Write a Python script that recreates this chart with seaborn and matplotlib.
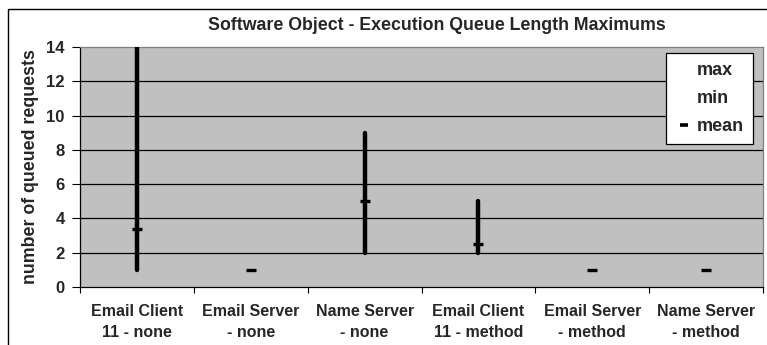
import matplotlib.pyplot as plt
import seaborn as sns
import pandas as pd
from matplotlib.lines import Line2D
from matplotlib.patches import Rectangle

# values
categories = ['Email Client\n11 - none', 'Email Server\n- none', 'Name Server\n- none',
              'Email Client\n11 - method', 'Email Server\n- method', 'Name Server\n- method']
q_max = [14, 1, 9, 5, 1, 1]
q_min = [1, 1, 2, 2, 1, 1]
q_mean = [3.4, 1, 5, 2.5, 1, 1]
y_ticks = [0, 2, 4, 6, 8, 10, 12, 14]

df = pd.DataFrame({'object': categories, 'max': q_max, 'min': q_min, 'mean': q_mean})
df['pos'] = range(len(df))

sns.set_style('white')
plt.rcParams['font.family'] = ['Liberation Sans', 'DejaVu Sans']
plt.rcParams['font.weight'] = 'bold'

fig = plt.figure(figsize=(7.67, 3.45), dpi=100)
ax = fig.add_axes([80 / 767, 1 - 287 / 345, 683 / 767, 240 / 345])
ax.set_facecolor('#c0c0c0')

# outer chart frame (clipped on right and bottom like the source)
fig.add_artist(Rectangle((8 / 767, -0.05), 1.0, 1 - 9 / 345 + 0.05, transform=fig.transFigure,
                         fill=False, edgecolor='black', linewidth=1.0))

for y in y_ticks[1:-1]:
    ax.axhline(y, color='black', linewidth=0.9, zorder=1)

# high-low lines
ax.vlines(df['pos'], df['min'], df['max'], color='black', linewidth=3.2,
          capstyle='round', zorder=3)
# mean dashes
sns.scatterplot(data=df, x='pos', y='mean', marker='_', s=60, color='black',
                linewidth=2.4, ax=ax, zorder=4, legend=False)

ax.set_xlim(-0.5, len(categories) - 0.5)
ax.set_ylim(0, 14)
ax.set_yticks(y_ticks)
ax.set_yticklabels([str(v) for v in y_ticks], fontsize=12, fontweight='bold')
ax.set_xticks([i - 0.5 for i in range(len(categories) + 1)])
ax.set_xticklabels([])
ax.set_xticks(range(len(categories)), minor=True)
ax.set_xticklabels(categories, minor=True, fontsize=11.5, fontweight='bold', linespacing=1.5)
ax.tick_params(axis='x', which='major', direction='out', length=4, width=0.8, color='black', bottom=True)
ax.tick_params(axis='x', which='minor', length=0, pad=12)
ax.tick_params(axis='y', direction='out', length=6, width=0.8, color='black', left=True, pad=5)
ax.set_xlabel('')
ax.set_ylabel('number of queued requests', fontsize=12.8, fontweight='bold', labelpad=5)

for side in ['left', 'bottom']:
    ax.spines[side].set_color('black')
    ax.spines[side].set_linewidth(0.9)
for side in ['top', 'right']:
    ax.spines[side].set_color('#808080')
    ax.spines[side].set_linewidth(0.9)

fig.text(437 / 767, 1 - 25 / 345, 'Software Object - Execution Queue Length Maximums',
         ha='center', va='center', fontsize=12.8, fontweight='bold')

handles = [Line2D([], [], linestyle='none'),
           Line2D([], [], linestyle='none'),
           Line2D([], [], linestyle='none', marker='_', markersize=6, markeredgewidth=2.6, color='black')]
leg = ax.legend(handles, ['max', 'min', 'mean'], loc='upper right',
                bbox_to_anchor=((753 - 80) / 683, (287 - 53) / 240), borderaxespad=0,
                frameon=True, fancybox=False, edgecolor='black', facecolor='white', framealpha=1,
                prop={'size': 13, 'weight': 'bold'}, handlelength=1.0, handletextpad=0.2,
                borderpad=0.5, labelspacing=0.62)
leg.get_frame().set_linewidth(0.9)

fig.savefig('out.png', dpi=100)
